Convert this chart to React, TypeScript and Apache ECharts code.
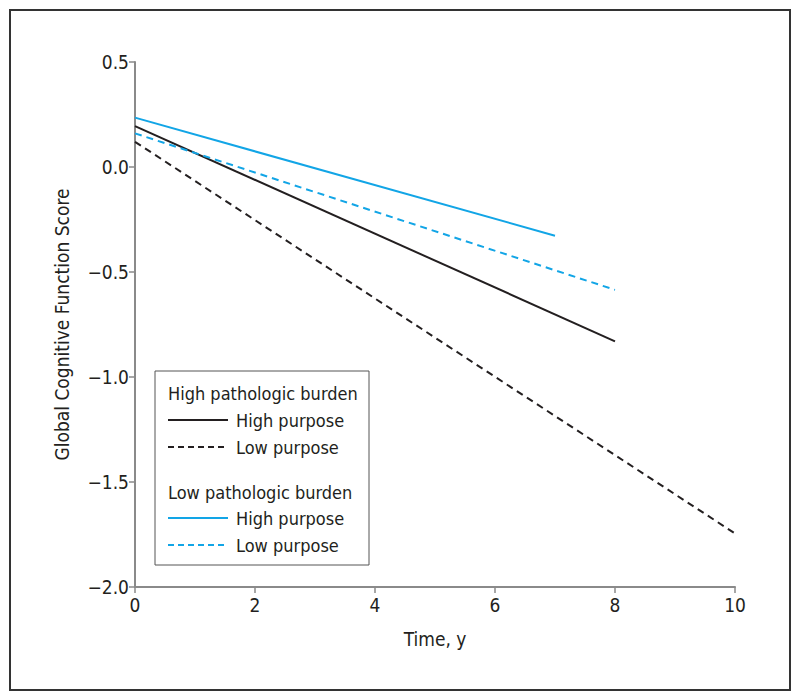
import React, { useEffect, useRef } from "react";
import * as echarts from "echarts";

// Data
const hbHighX = [0, 8];
const hbHighY = [0.195, -0.83];
const hbLowX = [0, 10];
const hbLowY = [0.12, -1.745];
const lbHighX = [0, 7];
const lbHighY = [0.235, -0.327];
const lbLowX = [0, 8];
const lbLowY = [0.16, -0.585];

const xTicks = [0, 2, 4, 6, 8, 10];
const yTicks = [-2.0, -1.5, -1.0, -0.5, 0.0, 0.5];

const FONT = "'Liberation Sans Narrow', 'DejaVu Sans Condensed', 'Roboto', sans-serif";
const TEXT = "#231f20";
const BLACK = "#231f20";
const BLUE = "#12a5e6";
const AXIS = "#8a8a8a";

const pairs = (xs: number[], ys: number[]) => xs.map((x, i) => [x, ys[i]]);

export default function App() {
  const ref = useRef<HTMLDivElement>(null);
  useEffect(() => {
    if (!ref.current) return;
    const chart = echarts.init(ref.current, null, { renderer: "svg" });
    const legendLine = (y: number, color: string, dashed: boolean) => ({
      type: "line",
      shape: { x1: 168, y1: y, x2: 228, y2: y },
      style: { stroke: color, lineWidth: 2, lineDash: dashed ? [6, 4] : null },
    });
    const legendText = (x: number, y: number, text: string) => ({
      type: "text",
      x,
      y,
      style: { text, fill: TEXT, font: `18px ${FONT}`, textVerticalAlign: "middle", textAlign: "left" },
    });
    chart.setOption({
      animation: false,
      backgroundColor: "#ffffff",
      grid: { left: 135, right: 65, top: 62, bottom: 113 },
      xAxis: {
        type: "value",
        min: xTicks[0],
        max: xTicks[xTicks.length - 1],
        interval: 2,
        name: "Time, y",
        nameLocation: "middle",
        nameGap: 42,
        nameTextStyle: { color: TEXT, fontSize: 19, fontFamily: FONT },
        axisLine: { show: true, onZero: false, lineStyle: { color: AXIS, width: 2 } },
        axisTick: { show: true, length: 6, lineStyle: { color: AXIS, width: 1.5 } },
        axisLabel: { color: TEXT, fontSize: 19, fontFamily: FONT, margin: 8 },
        splitLine: { show: false },
      },
      yAxis: {
        type: "value",
        min: yTicks[0],
        max: yTicks[yTicks.length - 1],
        interval: 0.5,
        name: "Global Cognitive Function Score",
        nameLocation: "middle",
        nameGap: 64,
        nameTextStyle: { color: TEXT, fontSize: 19, fontFamily: FONT },
        axisLine: { show: true, onZero: false, lineStyle: { color: AXIS, width: 2 } },
        axisTick: { show: true, length: 6, lineStyle: { color: AXIS, width: 1.5 } },
        axisLabel: {
          color: TEXT,
          fontSize: 19,
          fontFamily: FONT,
          margin: 6,
          formatter: (v: number) => v.toFixed(1).replace("-", "\u2212"),
        },
        splitLine: { show: false },
      },
      series: [
        {
          name: "High pathologic burden, High purpose",
          type: "line",
          data: pairs(hbHighX, hbHighY),
          showSymbol: false,
          lineStyle: { color: BLACK, width: 2 },
        },
        {
          name: "High pathologic burden, Low purpose",
          type: "line",
          data: pairs(hbLowX, hbLowY),
          showSymbol: false,
          lineStyle: { color: BLACK, width: 2, type: [7, 5] },
        },
        {
          name: "Low pathologic burden, High purpose",
          type: "line",
          data: pairs(lbHighX, lbHighY),
          showSymbol: false,
          lineStyle: { color: BLUE, width: 2 },
        },
        {
          name: "Low pathologic burden, Low purpose",
          type: "line",
          data: pairs(lbLowX, lbLowY),
          showSymbol: false,
          lineStyle: { color: BLUE, width: 2, type: [7, 5] },
        },
      ],
      graphic: [
        {
          type: "rect",
          shape: { x: 10, y: 10, width: 780, height: 680 },
          style: { fill: "none", stroke: "#333333", lineWidth: 2 },
          silent: true,
        },
        {
          type: "rect",
          shape: { x: 155, y: 371, width: 214, height: 194 },
          style: { fill: "#ffffff", stroke: "#555555", lineWidth: 1 },
          z: 10,
        },
        { ...legendText(168, 393, "High pathologic burden"), z: 11 },
        { ...legendLine(420, BLACK, false), z: 11 },
        { ...legendText(236, 420, "High purpose"), z: 11 },
        { ...legendLine(447, BLACK, true), z: 11 },
        { ...legendText(236, 447, "Low purpose"), z: 11 },
        { ...legendText(168, 492, "Low pathologic burden"), z: 11 },
        { ...legendLine(518, BLUE, false), z: 11 },
        { ...legendText(236, 518, "High purpose"), z: 11 },
        { ...legendLine(545, BLUE, true), z: 11 },
        { ...legendText(236, 545, "Low purpose"), z: 11 },
      ],
    });
    return () => chart.dispose();
  }, []);
  return (
    <div
      ref={ref}
      style={{ position: "fixed", left: 0, top: 0, width: 800, height: 700, background: "#fff" }}
    />
  );
}
